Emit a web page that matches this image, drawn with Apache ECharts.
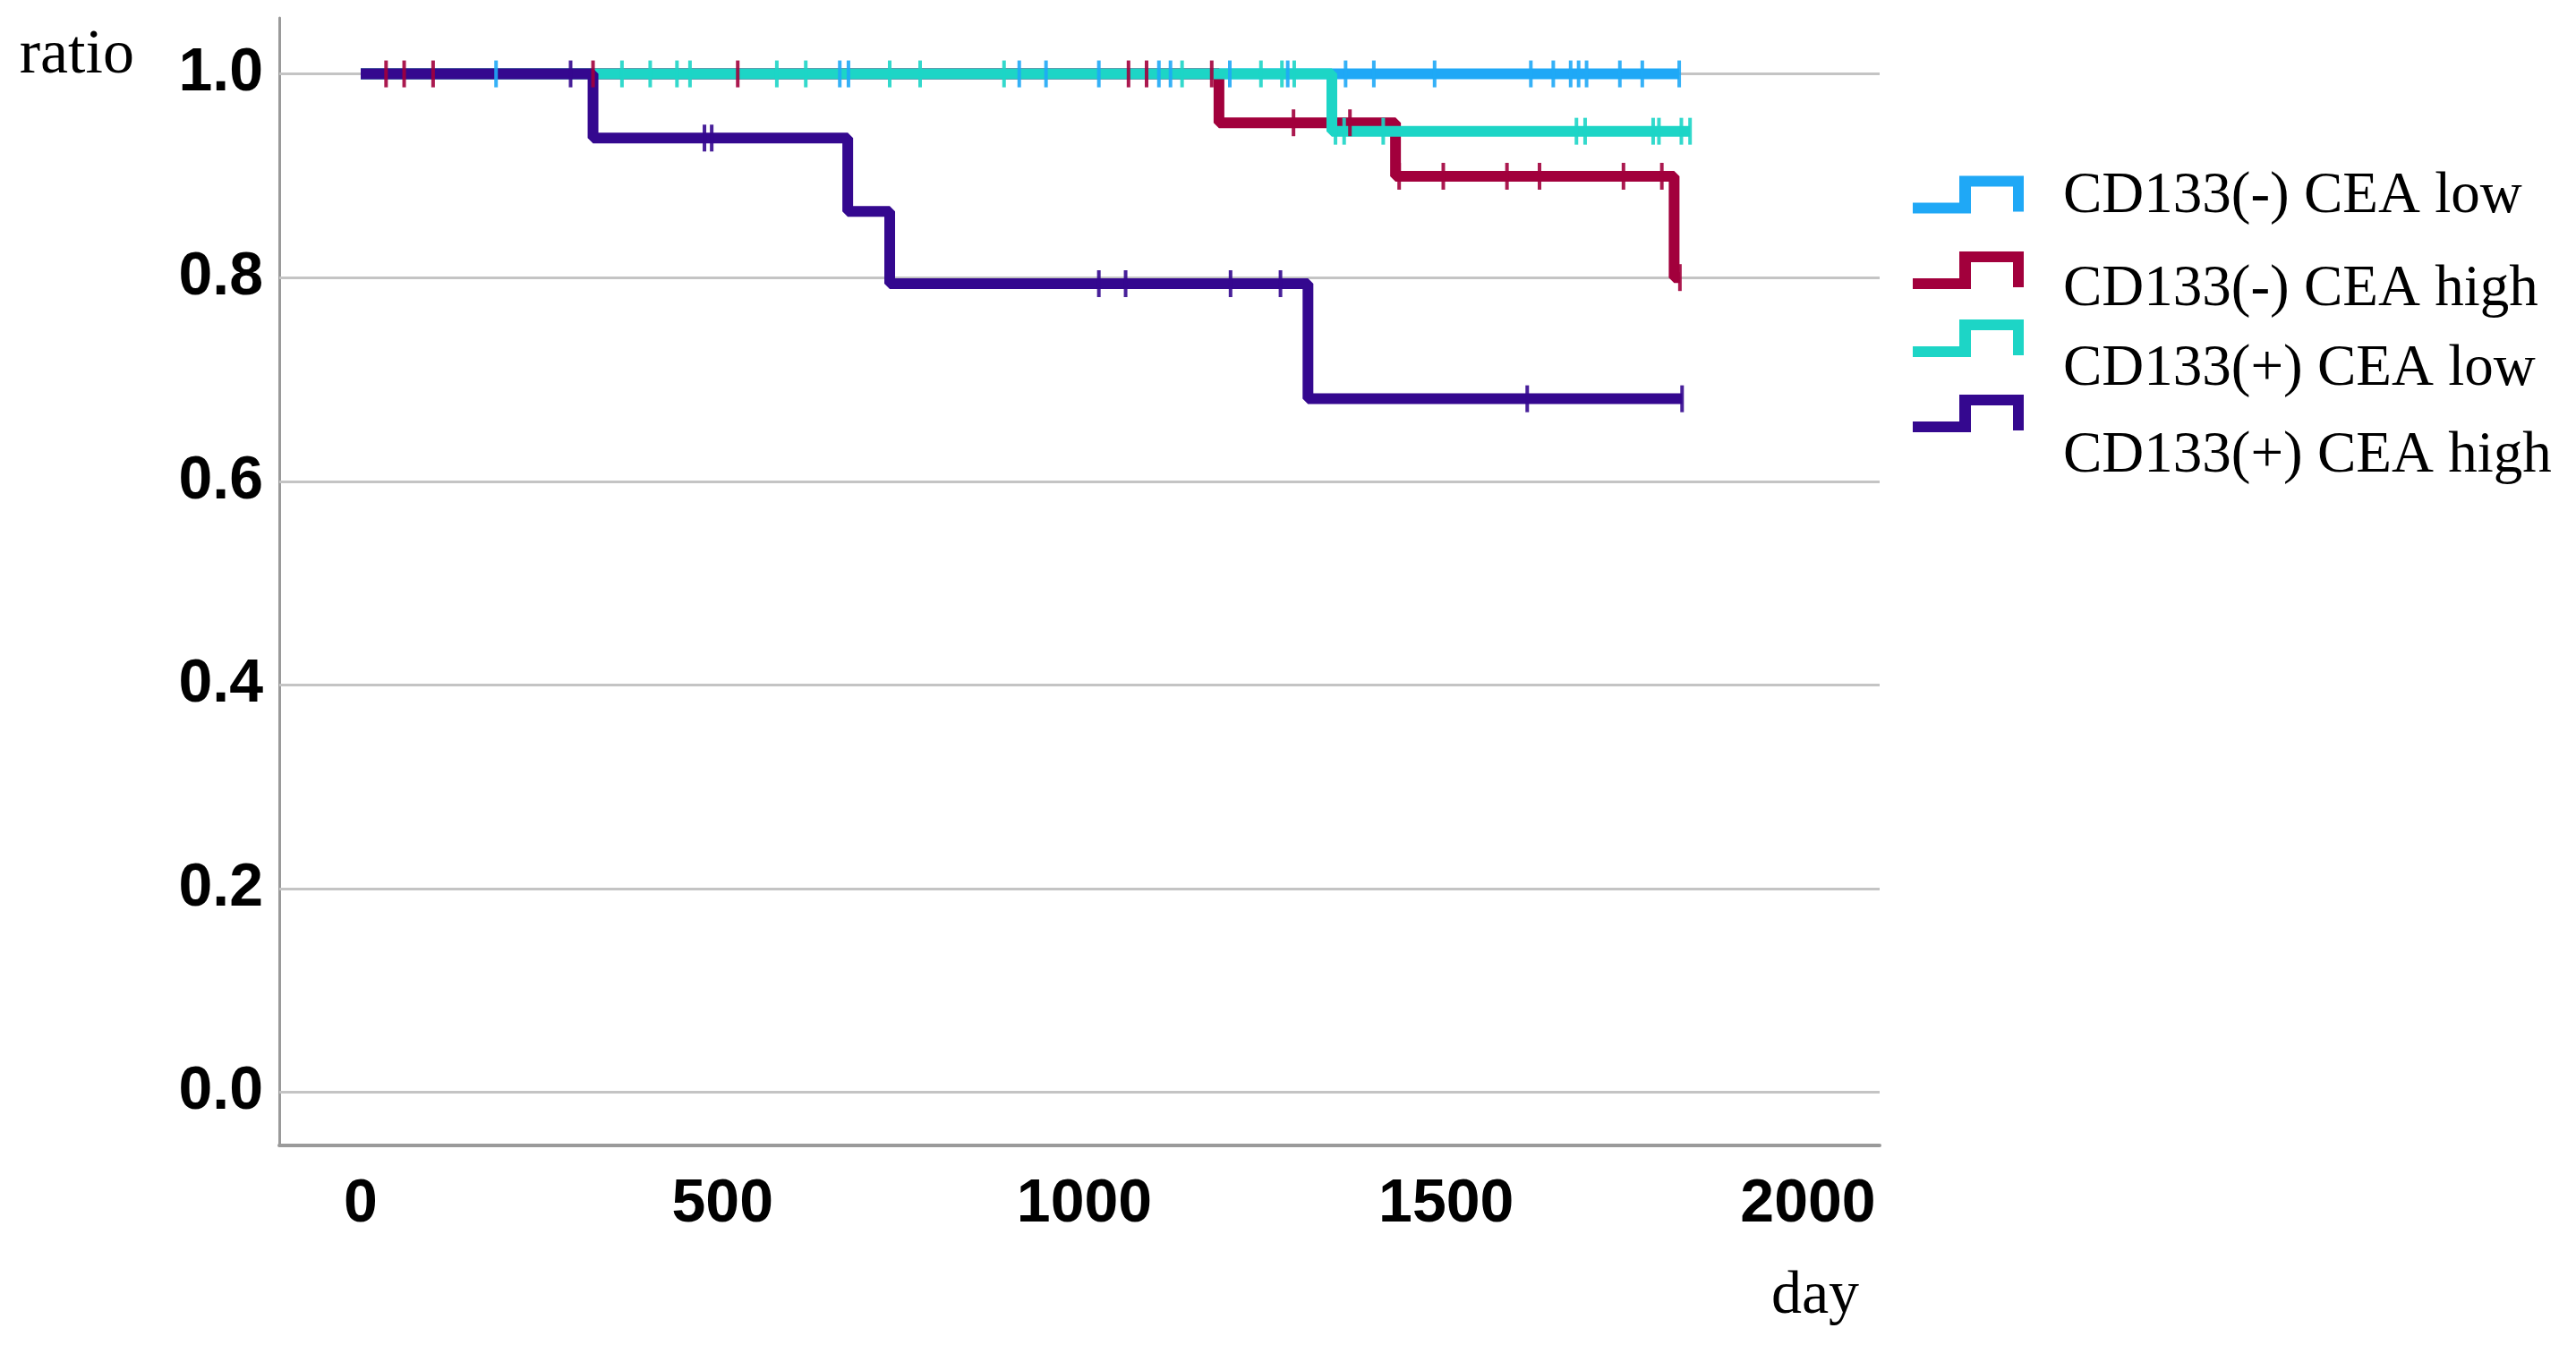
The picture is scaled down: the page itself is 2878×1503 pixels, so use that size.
<!DOCTYPE html>
<html>
<head>
<meta charset="utf-8">
<script src="https://cdn.jsdelivr.net/npm/echarts@6/dist/echarts.min.js"></script>
<style>
  html, body { margin: 0; padding: 0; background: #ffffff; }
  #chart { width: 2878px; height: 1503px; }
</style>
</head>
<body>
<div id="chart"></div>
<script>
// ---- data ----
const xTicks = [0, 500, 1000, 1500, 2000];
const yTicks = [0, 0.2, 0.4, 0.6, 0.8, 1.0];
const seriesNames = ['CD133(-) CEA low', 'CD133(-) CEA high', 'CD133(+) CEA low', 'CD133(+) CEA high'];
const seriesColors = ['#1fa8f6', '#a2003c', '#1dd5c6', '#34088f'];

// Kaplan-Meier step points (day, survival ratio)
const negLowTimes = [0, 1822];
const negLowSurv = [1.0, 1.0];
const negHighTimes = [0, 1186, 1430, 1815, 1823];
const negHighSurv = [1.0, 0.952, 0.8995, 0.80, 0.80];
const posLowTimes = [0, 1342, 1837];
const posLowSurv = [1.0, 0.9437, 0.9437];
const posHighTimes = [0, 321, 673, 731, 1309, 1826];
const posHighSurv = [1.0, 0.937, 0.865, 0.794, 0.681, 0.681];

// censored observations (day)
const negLowCensor = [187, 662, 674, 910, 947, 1020, 1103, 1119, 1201, 1281, 1361, 1400, 1484, 1617, 1648, 1672, 1683, 1694, 1740, 1771, 1822];
const negHighCensor = [35, 60, 100, 321, 521, 1061, 1086, 1176, 1289, 1367, 1435, 1496, 1584, 1629, 1745, 1798, 1823];
const posLowCensor = [361, 400, 437, 455, 575, 615, 731, 773, 889, 1135, 1244, 1273, 1290, 1347, 1359, 1413, 1680, 1692, 1786, 1794, 1825, 1837];
const posHighCensor = [290, 475, 485, 1020, 1057, 1202, 1271, 1612, 1826];

// ---- build options ----
const groups = [
  { times: negLowTimes, surv: negLowSurv, censor: negLowCensor },
  { times: negHighTimes, surv: negHighSurv, censor: negHighCensor },
  { times: posLowTimes, surv: posLowSurv, censor: posLowCensor },
  { times: posHighTimes, surv: posHighSurv, censor: posHighCensor }
];

function survAt(times, surv, t) {
  let s = surv[0];
  for (let i = 0; i < times.length; i++) { if (times[i] <= t) s = surv[i]; }
  return s;
}

// legend icon: step glyph drawn at the top-left of a W x H box
// (a zero-length anchor point fixes the box so text sits lower / further right)
const ICON_W = 163;
function stepIcon(H) {
  return 'path://M0,30 L52,30 L52,0 L124,0 L124,40 L112,40 L112,12 L65,12 L65,42 L0,42 Z ' +
    'M' + ICON_W + ',' + H + ' L' + ICON_W + ',' + H;
}

const series = [];
groups.forEach(function (g, i) {
  const line = {
    name: seriesNames[i],
    type: 'line',
    step: 'end',
    showSymbol: false,
    symbol: 'none',
    z: 2 + i,
    lineStyle: { color: seriesColors[i], width: 12 },
    itemStyle: { color: seriesColors[i], borderWidth: 0 },
    data: g.times.map(function (t, k) { return [t, g.surv[k]]; })
  };
  if (i === 0) {
    line.markLine = {
      silent: true,
      z: 1,
      symbol: ['none', 'none'],
      label: { show: false },
      lineStyle: { color: '#c4c4c4', width: 3, type: 'solid' },
      data: yTicks.map(function (v) { return { yAxis: v }; })
    };
  }
  series.push(line);
});
groups.forEach(function (g, i) {
  series.push({
    name: seriesNames[i],
    type: 'scatter',
    symbol: 'rect',
    symbolSize: [4, 30],
    z: 10 + i,
    itemStyle: { color: seriesColors[i], opacity: 0.9 },
    data: g.censor.map(function (t) { return [t, survAt(g.times, g.surv, t)]; })
  });
});

const legendIconH = [46, 86, 112, 138];
const legendTops = [187, 281, 357, 441];
const legends = seriesNames.map(function (n, i) {
  return {
    left: 2137,
    top: legendTops[i],
    padding: 0,
    orient: 'vertical',
    itemWidth: ICON_W,
    itemHeight: legendIconH[i],
    data: [{ name: n, icon: stepIcon(legendIconH[i]) }],
    itemStyle: { borderWidth: 0 },
    textStyle: {
      fontFamily: 'Liberation Serif',
      fontSize: 65,
      color: '#000'
    }
  };
});

const option = {
  animation: false,
  backgroundColor: '#ffffff',
  grid: { left: 312, right: 778, top: 20, bottom: 223, containLabel: false },
  legend: legends,
  xAxis: {
    type: 'value',
    min: -112.6,
    max: 2099,
    name: 'day',
    nameLocation: 'end',
    nameGap: -72,
    nameTextStyle: {
      fontFamily: 'Liberation Serif', fontSize: 68, color: '#000',
      align: 'center', verticalAlign: 'top', padding: [135, 0, 0, 0]
    },
    axisLine: { show: true, onZero: false, lineStyle: { color: '#9a9a9a', width: 4 } },
    axisTick: { show: false },
    splitLine: { show: false },
    axisLabel: {
      customValues: xTicks,
      margin: 32,
      fontFamily: 'Liberation Sans', fontWeight: 'bold', fontSize: 68, color: '#000',
      formatter: function (v) { return String(v); }
    }
  },
  yAxis: {
    type: 'value',
    min: -0.0522,
    max: 1.055,
    name: 'ratio',
    nameLocation: 'end',
    nameGap: -43,
    nameTextStyle: {
      fontFamily: 'Liberation Serif', fontSize: 70, color: '#000',
      align: 'right', verticalAlign: 'middle', padding: [0, 162, 0, 0]
    },
    axisLine: { show: true, onZero: false, lineStyle: { color: '#9a9a9a', width: 3 } },
    axisTick: { show: false },
    splitLine: { show: false },
    axisLabel: {
      customValues: yTicks,
      margin: 18,
      fontFamily: 'Liberation Sans', fontWeight: 'bold', fontSize: 68, color: '#000',
      formatter: function (v) { return v.toFixed(1); }
    }
  },
  series: series
};

const chart = echarts.init(document.getElementById('chart'), null, { renderer: 'canvas' });
chart.setOption(option);
</script>
</body>
</html>
